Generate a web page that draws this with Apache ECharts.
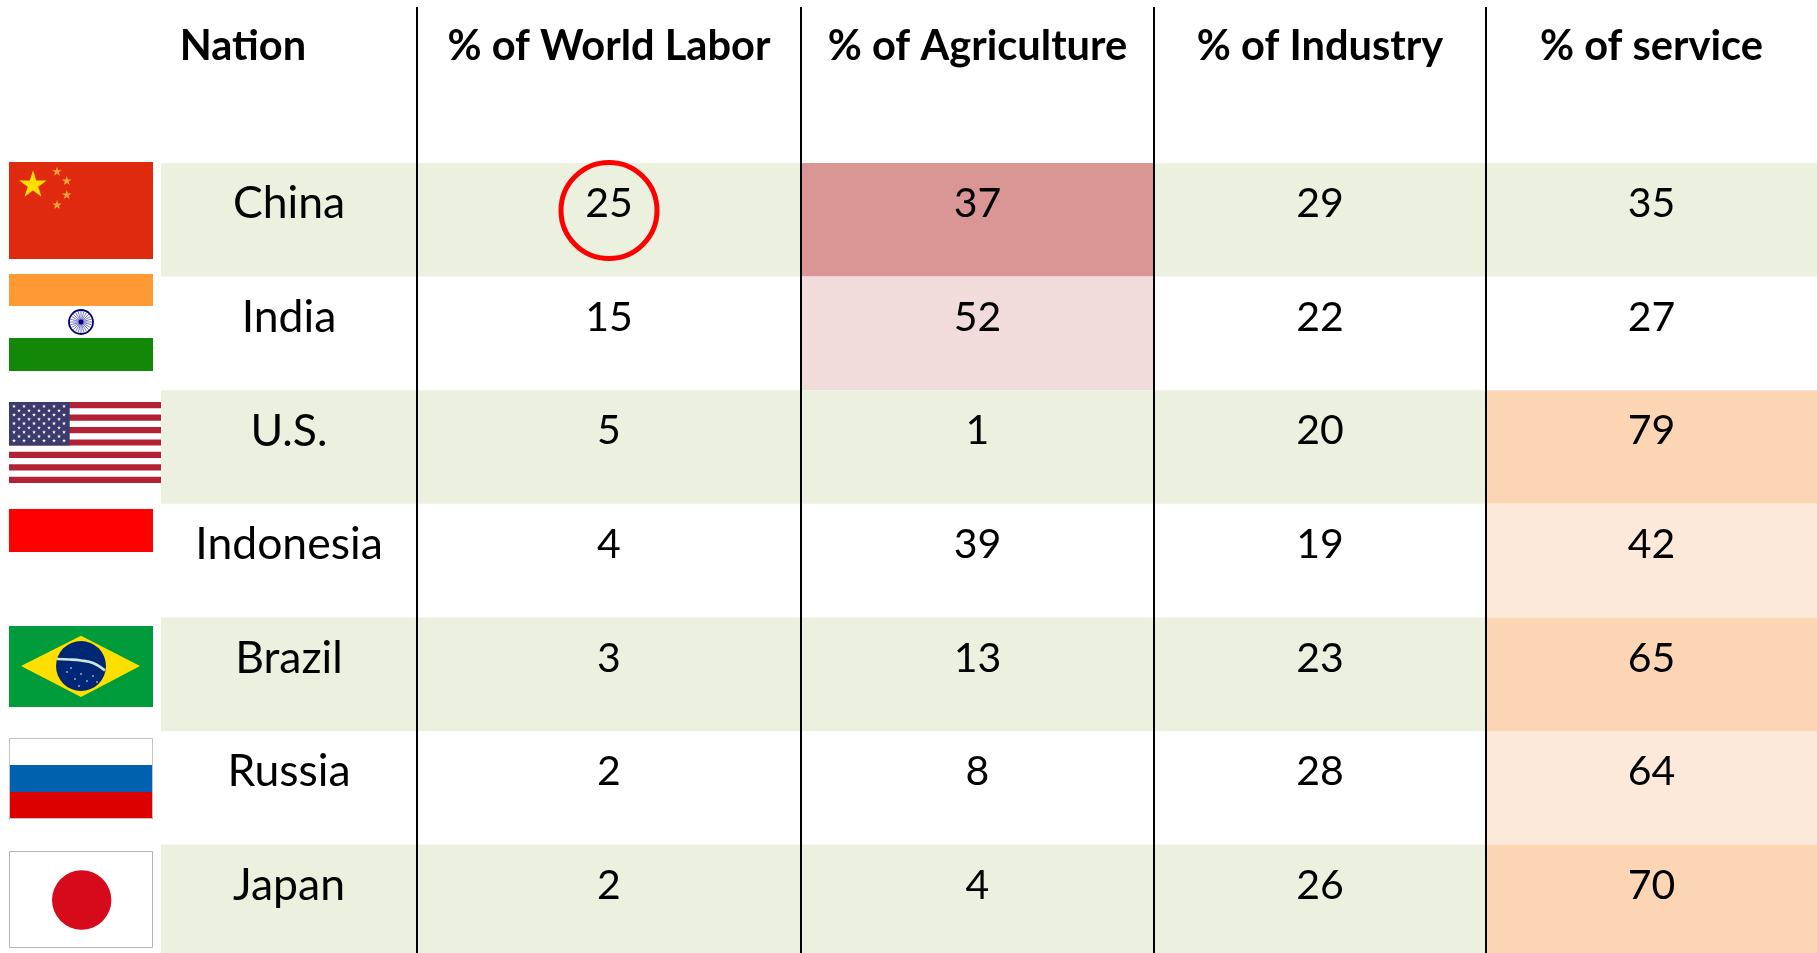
<!DOCTYPE html>
<html>
<head>
<meta charset="utf-8">
<title>World labor by nation</title>
<script src="https://cdn.jsdelivr.net/npm/echarts@6/dist/echarts.min.js"></script>
<style>
  html, body { margin: 0; padding: 0; background: #fff; }
  #chart { width: 1817px; height: 953px; }
</style>
</head>
<body>
<div id="chart"></div>
<script>
var headers = ['Nation', '% of World Labor', '% of Agriculture', '% of Industry', '% of service']
var nations = ['China', 'India', 'U.S.', 'Indonesia', 'Brazil', 'Russia', 'Japan']
var flags = ['cn', 'in', 'us', 'id', 'br', 'ru', 'jp']
var worldLabor = [25, 15, 5, 4, 3, 2, 2]
var agriculture = [37, 52, 1, 39, 13, 8, 4]
var industry = [29, 22, 20, 19, 23, 28, 26]
var service = [35, 27, 79, 42, 65, 64, 70]
// which cells are tinted, by column, the rest just follow the row banding
var agricultureTone = ['redStrong', 'redSoft', null, null, null, null, null]
var serviceTone = [null, null, 'orangeStrong', 'orangeSoft', 'orangeStrong', 'orangeSoft', 'orangeStrong']
var circledCell = [[1, 0]]

// layout, in page pixels
var columnEdges = [161, 417, 801, 1154, 1486, 1817]
var headerX = [243, 609, 977.5, 1320, 1651.5]
var headerY = 47
var rowTop = 163
var rowHeight = 113.6
var textOffset = 41
var flagBoxes = [
  [9, 162, 153, 259],
  [9, 274, 153, 371],
  [9, 402, 161, 483],
  [9, 509, 153, 552],
  [9, 626, 153, 707],
  [9, 738, 153, 819],
  [9, 851, 153, 948]
]
var tones = {
  band: '#EBF1DE',
  redStrong: '#DA9694',
  redSoft: '#F2DCDB',
  orangeStrong: '#FCD5B4',
  orangeSoft: '#FDE9D9'
}
var fontFamily = 'Lato, "Open Sans", sans-serif'
var nameFont = '400 44.5px ' + fontFamily
var valueFont = '400 41px ' + fontFamily
var headerFont = '700 41.6px ' + fontFamily

var columns = [nations, worldLabor, agriculture, industry, service]
var cells = []
columns.forEach(function(values, col) {
  values.forEach(function(v, row) {
    var tone = col === 2 ? agricultureTone[row] : col === 4 ? serviceTone[row] : null
    cells.push([col, row, v, tone])
  })
})

function star(cx, cy, r, fill) {
  var pts = []
  for (var i = 0; i < 10; i++) {
    var a = -Math.PI / 2 + i * Math.PI / 5
    var k = i % 2 ? r * 0.38 : r
    pts.push([cx + k * Math.cos(a), cy + k * Math.sin(a)])
  }
  return { type: 'polygon', shape: { points: pts }, style: { fill: fill } }
}

function rect(x, y, w, h, fill) {
  return { type: 'rect', shape: { x: x, y: y, width: w, height: h }, style: { fill: fill } }
}

function circle(cx, cy, r, style) {
  return { type: 'circle', shape: { cx: cx, cy: cy, r: r }, style: style }
}

// each flag is drawn in its own box, w and h are the box size
function flagShapes(code, w, h) {
  var out = []
  if (code === 'cn') {
    out.push(rect(0, 0, w, h, '#DF2A10'))
    out.push(star(24, 23, 14.5, '#FFDE00'))
    out.push(star(48, 9.7, 5, '#F8A83A'))
    out.push(star(57.7, 19, 5, '#F8A83A'))
    out.push(star(57.7, 33, 5, '#F8A83A'))
    out.push(star(48, 43, 5, '#F8A83A'))
  } else if (code === 'in') {
    out.push(rect(0, 0, w, 32, '#FF9933'))
    out.push(rect(0, 64, w, h - 64, '#138808'))
    out.push(circle(72, 48, 12, { fill: '#fff', stroke: '#000080', lineWidth: 1.8 }))
    for (var s = 0; s < 24; s++) {
      var a = s * Math.PI / 12
      out.push({
        type: 'line',
        shape: { x1: 72, y1: 48, x2: 72 + 11 * Math.cos(a), y2: 48 + 11 * Math.sin(a) },
        style: { stroke: '#5a5ab8', lineWidth: 0.8 }
      })
    }
    out.push(circle(72, 48, 2.4, { fill: '#000080' }))
  } else if (code === 'us') {
    var stripe = h / 13
    for (var r = 0; r < 13; r += 2) out.push(rect(0, r * stripe, w, stripe, '#B22234'))
    out.push(rect(0, 0, 60.7, stripe * 7, '#3C3B6E'))
    for (var i = 0; i < 9; i++) {
      var n = i % 2 ? 5 : 6
      for (var j = 0; j < n; j++) {
        var sx = (i % 2 ? 10 : 5) + j * 10
        out.push(star(sx, 4.3 + i * 4.3, 2.1, '#fff'))
      }
    }
  } else if (code === 'id') {
    out.push(rect(0, 0, w, h, '#FF0000'))
  } else if (code === 'br') {
    out.push(rect(0, 0, w, h, '#009B3A'))
    out.push({
      type: 'polygon',
      shape: { points: [[12, 40], [72, 9.7], [131, 40], [72, 71]] },
      style: { fill: '#FEDF00' }
    })
    out.push(circle(72, 40, 25, { fill: '#002776' }))
    out.push({
      type: 'polyline',
      shape: { points: [[48, 33], [60, 33.5], [72, 34.5], [84, 37], [96, 44.5]], smooth: 0.4 },
      style: { stroke: '#CFE6DA', lineWidth: 2.6, fill: 'none' }
    })
    ;[[58, 46], [66, 53], [72, 48], [78, 55], [84, 50], [70, 60], [88, 56], [62, 42]].forEach(function(p) {
      out.push(circle(p[0], p[1], 0.8, { fill: '#fff' }))
    })
  } else if (code === 'ru') {
    out.push(rect(0, 0, w, 27, '#fff'))
    out.push(rect(0, 27, w, 27, '#0062AE'))
    out.push(rect(0, 54, w, h - 54, '#DC0000'))
    out.push({
      type: 'rect',
      shape: { x: 0.5, y: 0.5, width: w - 1, height: h - 1 },
      style: { fill: 'none', stroke: '#c4c4c4', lineWidth: 1 }
    })
  } else if (code === 'jp') {
    out.push(rect(0, 0, w, h, '#fff'))
    out.push(circle(72.7, 49, 29.7, { fill: '#D60A1A' }))
    out.push({
      type: 'rect',
      shape: { x: 0.5, y: 0.5, width: w - 1, height: h - 1 },
      style: { fill: 'none', stroke: '#b4b4b4', lineWidth: 1 }
    })
  }
  return out
}

var chart = echarts.init(document.getElementById('chart'))
chart.setOption({
  animation: false,
  backgroundColor: '#fff',
  grid: { left: 0, right: 0, top: 0, bottom: 0 },
  xAxis: { type: 'value', min: 0, max: 1817, show: false },
  yAxis: { type: 'value', min: 0, max: 953, inverse: true, show: false },
  series: [
    {
      // table body: band, tint and value of every cell
      type: 'custom',
      silent: true,
      z: 2,
      data: cells,
      renderItem: function(params, api) {
        var col = api.value(0)
        var row = cells[params.dataIndex][1]
        var tone = cells[params.dataIndex][3]
        var text = cells[params.dataIndex][2]
        var p0 = api.coord([columnEdges[col], rowTop + row * rowHeight])
        var p1 = api.coord([columnEdges[col + 1], rowTop + (row + 1) * rowHeight])
        var fill = tone ? tones[tone] : row % 2 === 0 ? tones.band : null
        var children = []
        if (fill) children.push(rect(p0[0], p0[1], p1[0] - p0[0], p1[1] - p0[1], fill))
        children.push({
          type: 'text',
          z2: 5,
          style: {
            text: String(text),
            x: (p0[0] + p1[0]) / 2,
            y: p0[1] + textOffset,
            align: 'center',
            verticalAlign: 'middle',
            fill: '#000',
            font: col === 0 ? nameFont : valueFont
          }
        })
        return { type: 'group', children: children }
      }
    },
    {
      // column rules
      type: 'custom',
      silent: true,
      z: 3,
      data: columnEdges.slice(1, 5),
      renderItem: function(params, api) {
        var top = api.coord([api.value(0), 7])
        var bottom = api.coord([api.value(0), 953])
        return {
          type: 'line',
          shape: { x1: top[0], y1: top[1], x2: bottom[0], y2: bottom[1] },
          style: { stroke: '#000', lineWidth: 2 }
        }
      }
    },
    {
      // header row
      type: 'custom',
      silent: true,
      z: 4,
      data: headers.map(function(h, i) { return [headerX[i], headerY] }),
      renderItem: function(params, api) {
        var p = api.coord([api.value(0), api.value(1)])
        return {
          type: 'text',
          style: {
            text: headers[params.dataIndex],
            x: p[0],
            y: p[1],
            align: 'center',
            verticalAlign: 'middle',
            fill: '#000',
            font: headerFont
          }
        }
      }
    },
    {
      // flags beside the nation names
      type: 'custom',
      silent: true,
      z: 4,
      data: flags.map(function(f, i) { return [flagBoxes[i][0], flagBoxes[i][1]] }),
      renderItem: function(params, api) {
        var box = flagBoxes[params.dataIndex]
        var p = api.coord([box[0], box[1]])
        return {
          type: 'group',
          x: p[0],
          y: p[1],
          children: flagShapes(flags[params.dataIndex], box[2] - box[0], box[3] - box[1])
        }
      }
    },
    {
      // red ring round the China share
      type: 'scatter',
      silent: true,
      z: 5,
      symbol: 'circle',
      symbolSize: 96,
      itemStyle: { color: 'rgba(0,0,0,0)', borderColor: '#FF0000', borderWidth: 5, opacity: 1 },
      data: circledCell.map(function(c) {
        var col = c[0]
        return [(columnEdges[col] + columnEdges[col + 1]) / 2, rowTop + c[1] * rowHeight + 47.5]
      })
    }
  ]
})
</script>
</body>
</html>
